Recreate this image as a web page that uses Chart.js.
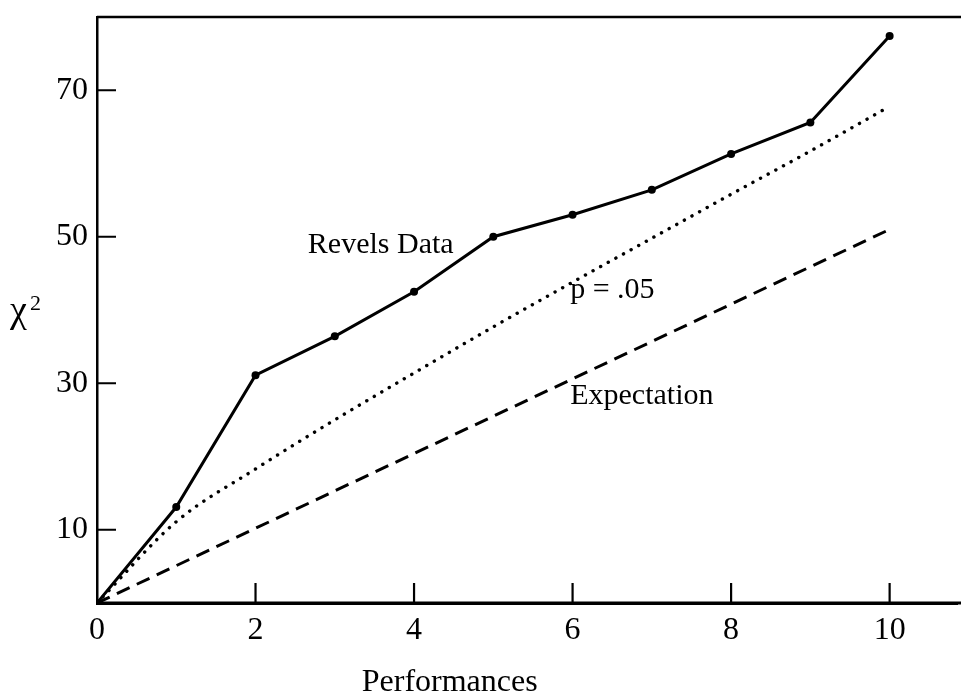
<!DOCTYPE html>
<html>
<head>
<meta charset="utf-8">
<script src="https://cdn.jsdelivr.net/npm/chart.js@4.4.1/dist/chart.umd.min.js"></script>
<style>
  html, body { margin: 0; padding: 0; background: #fff; }
  #wrap { width: 961px; height: 697px; }
</style>
</head>
<body>
<div id="wrap"><canvas id="chart"></canvas></div>
<script>
// values
const performances = [0, 1, 2, 3, 4, 5, 6, 7, 8, 9, 10];
const revelsData   = [0, 13.1, 31.1, 36.4, 42.5, 50.0, 53.0, 56.4, 61.3, 65.6, 77.4];
const pCritical    = [0, 11.1, 18.3, 25.0, 31.4, 37.7, 43.8, 49.8, 55.8, 61.7, 67.8];
const expectation  = [0, 5.1, 10.2, 15.3, 20.4, 25.5, 30.6, 35.7, 40.8, 45.9, 51.0];
const xTicks = [0, 2, 4, 6, 8, 10];
const yTicks = [10, 30, 50, 70];

const SERIF = "'Liberation Serif', 'DejaVu Serif', serif";

const pts = arr => performances.map((x, i) => ({ x: x, y: arr[i] }));

// text labels placed in data space
const notes = [
  { text: 'Revels Data', x: 2.66, y: 48.9 },
  { text: 'p = .05',     x: 5.97, y: 42.7 },
  { text: 'Expectation', x: 5.97, y: 28.3 }
];

const framePlugin = {
  id: 'frame',
  afterDraw(chart) {
    const { ctx, chartArea: a, scales: { x, y } } = chart;
    ctx.save();
    ctx.strokeStyle = '#000';
    // top border
    ctx.lineWidth = 2.5;
    ctx.beginPath();
    ctx.moveTo(a.left, a.top);
    ctx.lineTo(chart.width, a.top);
    ctx.stroke();
    // bottom axis runs to the edge
    ctx.lineWidth = 3;
    ctx.beginPath();
    ctx.moveTo(a.left, a.bottom);
    ctx.lineTo(chart.width, a.bottom);
    ctx.stroke();
    // inward tick marks
    ctx.lineWidth = 2.2;
    ctx.beginPath();
    xTicks.filter(v => v > 0).forEach(v => {
      const px = x.getPixelForValue(v);
      ctx.moveTo(px, a.bottom);
      ctx.lineTo(px, a.bottom - 20);
    });
    yTicks.forEach(v => {
      const py = y.getPixelForValue(v);
      ctx.moveTo(a.left, py);
      ctx.lineTo(a.left + 19, py);
    });
    ctx.stroke();

    ctx.fillStyle = '#000';
    ctx.textBaseline = 'middle';
    ctx.textAlign = 'left';
    ctx.font = '30px ' + SERIF;
    notes.forEach(n => ctx.fillText(n.text, x.getPixelForValue(n.x), y.getPixelForValue(n.y)));

    // axis titles
    ctx.font = '32px ' + SERIF;
    ctx.textAlign = 'center';
    ctx.fillText('Performances', x.getPixelForValue(4.45), 683);
    ctx.textAlign = 'left';
    ctx.textBaseline = 'alphabetic';
    ctx.font = '38px ' + SERIF;
    ctx.fillText('χ', 10, 322);
    ctx.font = '22px ' + SERIF;
    ctx.fillText('2', 30, 310);
    ctx.restore();
  }
};

new Chart(document.getElementById('chart'), {
  type: 'line',
  data: {
    datasets: [
      {
        label: 'Revels Data',
        data: pts(revelsData),
        borderColor: '#000',
        backgroundColor: '#000',
        borderWidth: 3,
        pointRadius: 4,
        pointBorderWidth: 0,
        tension: 0
      },
      {
        label: 'p = .05',
        data: pts(pCritical),
        borderColor: '#000',
        borderWidth: 3.4,
        borderDash: [0.1, 8.6],
        borderCapStyle: 'round',
        pointRadius: 0,
        cubicInterpolationMode: 'monotone'
      },
      {
        label: 'Expectation',
        data: pts(expectation),
        borderColor: '#000',
        borderWidth: 3,
        borderDash: [14, 8],
        pointRadius: 0,
        tension: 0
      }
    ]
  },
  options: {
    responsive: true,
    maintainAspectRatio: false,
    animation: false,
    layout: { padding: { top: 17, right: 0, left: 0, bottom: 0 } },
    plugins: { legend: { display: false }, tooltip: { enabled: false } },
    scales: {
      x: {
        type: 'linear',
        min: 0,
        max: 10.85,
        afterBuildTicks: s => { s.ticks = xTicks.map(v => ({ value: v })); },
        afterFit: s => { s.height = 94; s.paddingLeft = 0; s.paddingRight = 0; },
        grid: { drawOnChartArea: false, drawTicks: false },
        border: { display: true, color: '#000', width: 3 },
        ticks: { color: '#000', padding: 8, maxRotation: 0, font: { family: SERIF, size: 32 } }
      },
      y: {
        type: 'linear',
        min: 0,
        max: 80,
        afterBuildTicks: s => { s.ticks = yTicks.map(v => ({ value: v })); },
        afterFit: s => { s.width = 97; s.paddingTop = 0; s.paddingBottom = 0; },
        grid: { drawOnChartArea: false, drawTicks: false },
        border: { display: true, color: '#000', width: 2.5 },
        ticks: { color: '#000', padding: 9, font: { family: SERIF, size: 32 } }
      }
    }
  },
  plugins: [framePlugin]
});
</script>
</body>
</html>
